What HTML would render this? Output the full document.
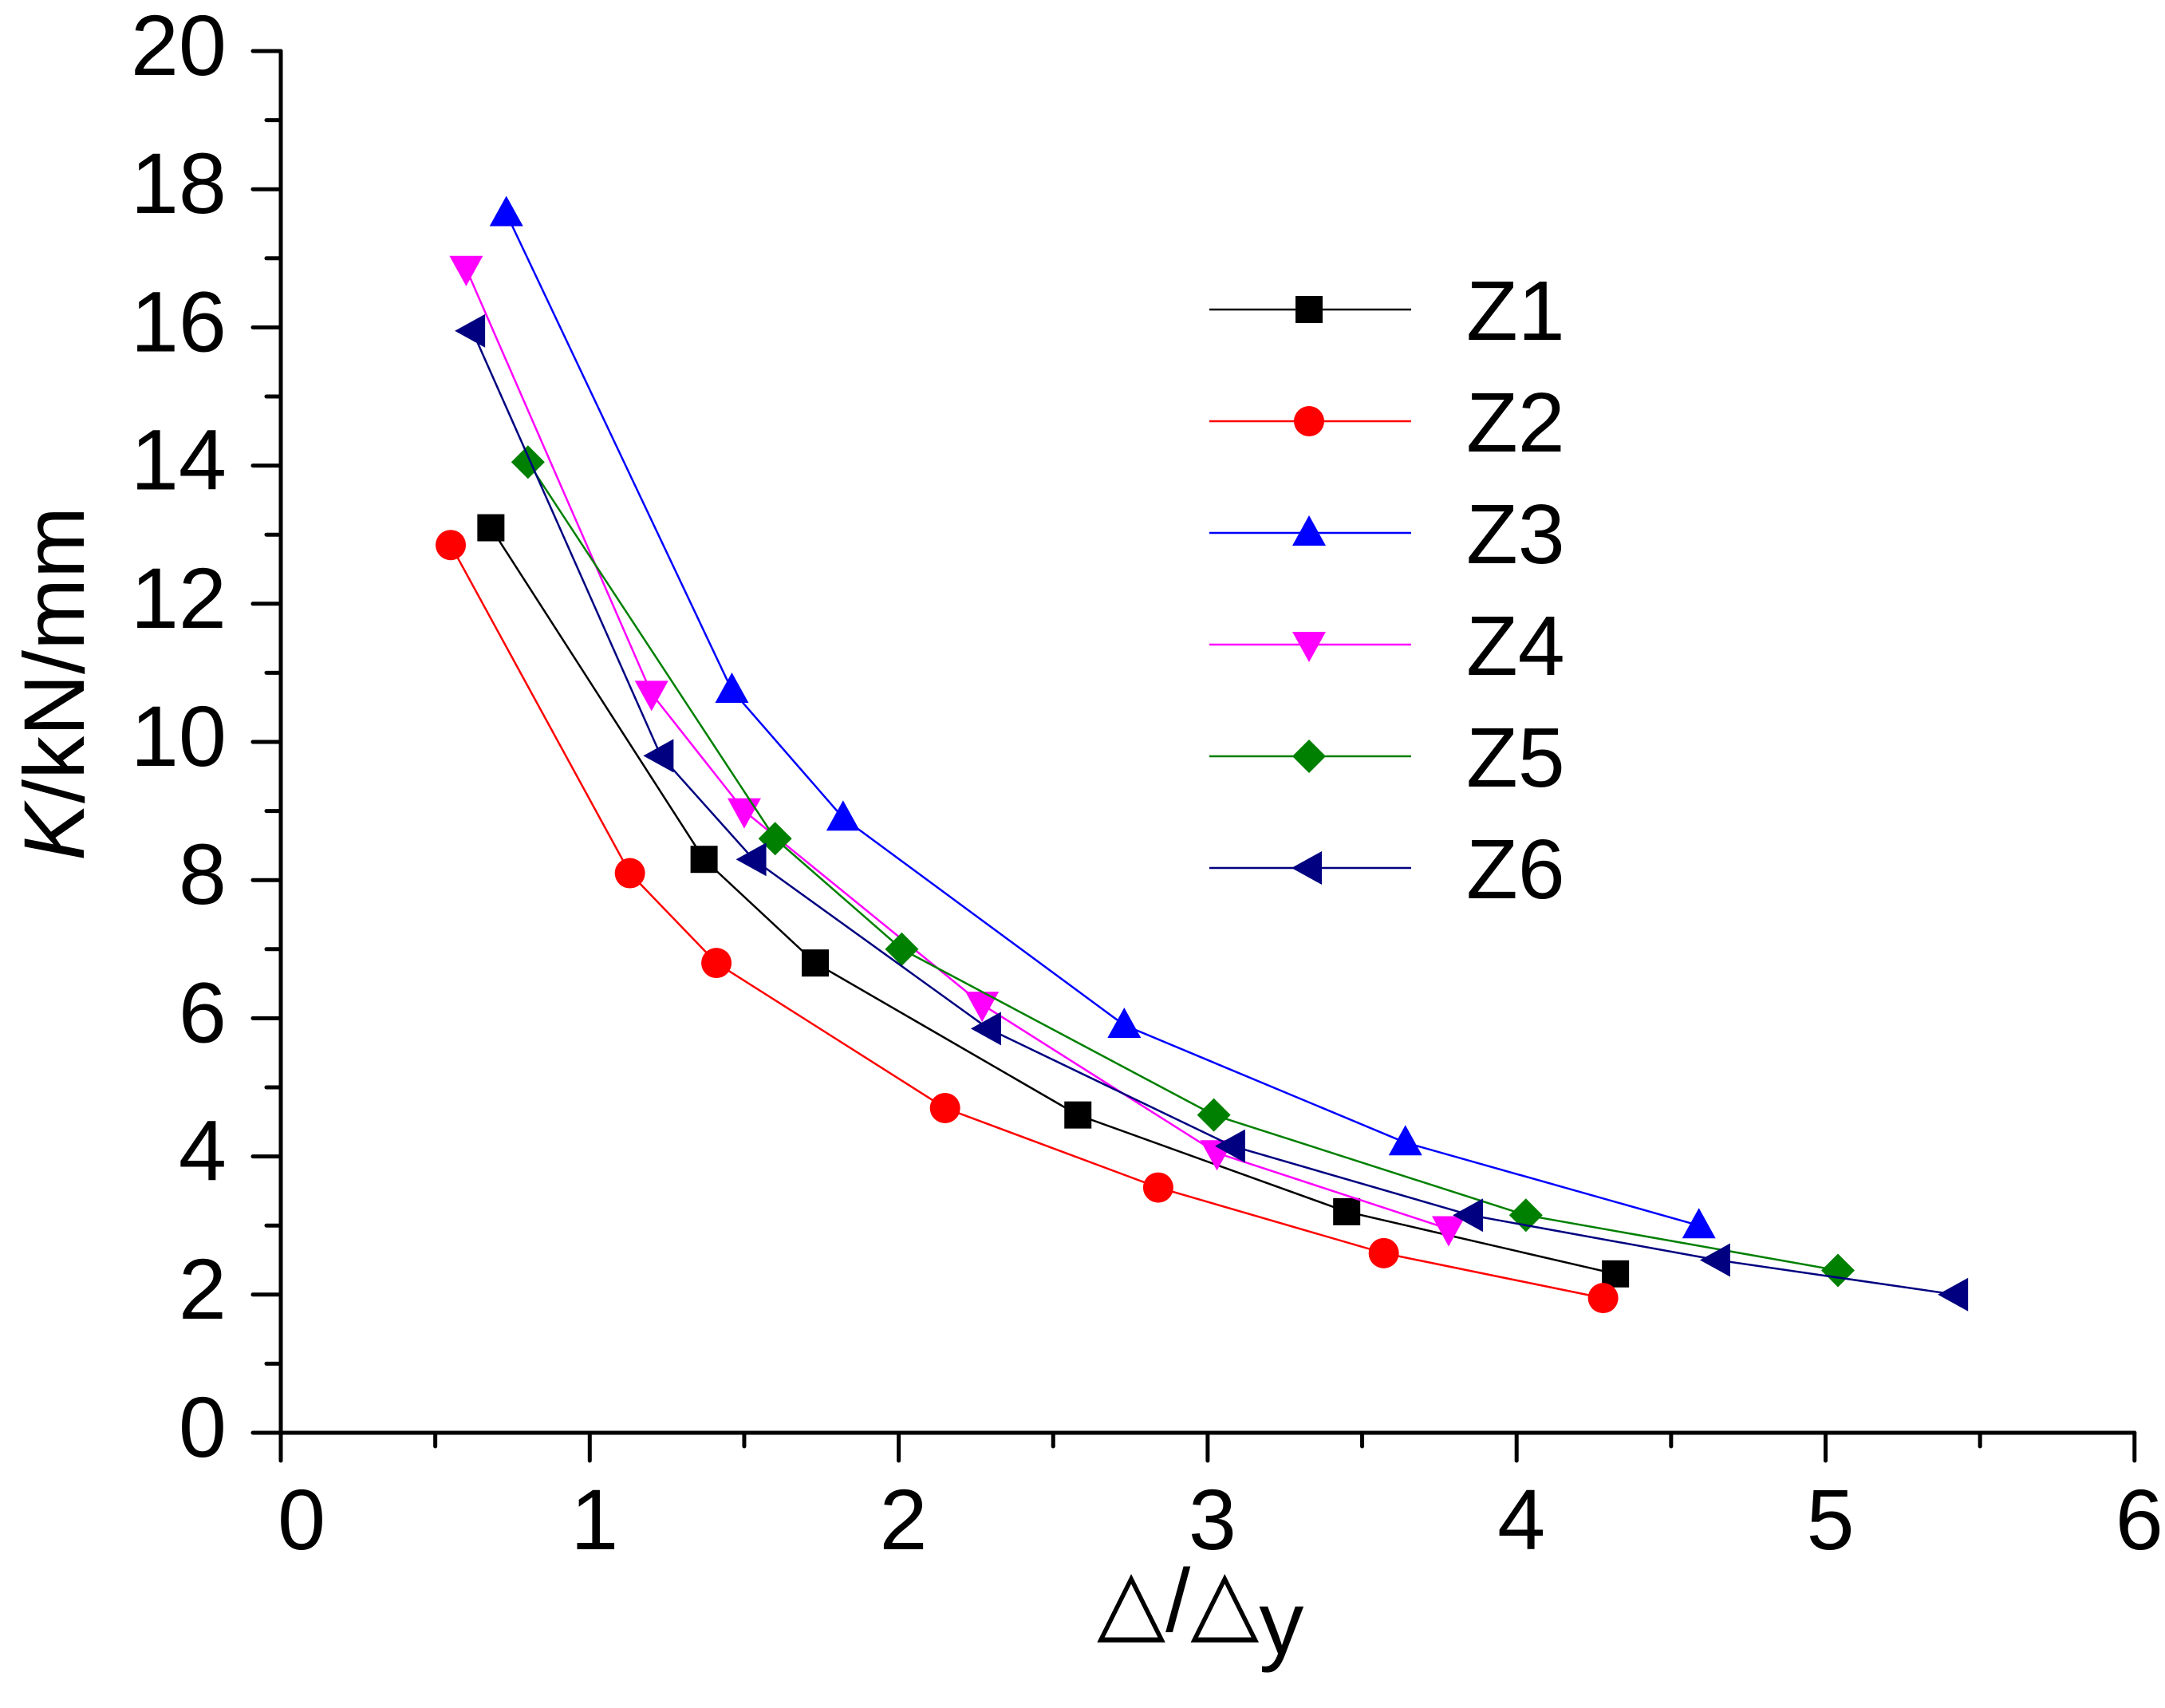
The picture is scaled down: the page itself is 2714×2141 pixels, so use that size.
<!DOCTYPE html>
<html><head><meta charset="utf-8"><style>
html,body{margin:0;padding:0;background:#fff;}
svg{display:block;font-family:"Liberation Sans",Arial,sans-serif;}
</style></head><body>
<svg id="chart" width="2714" height="2141" viewBox="0 0 2714 2141" xmlns="http://www.w3.org/2000/svg">
<g id="axes"></g>
<g id="series"></g>
<g id="legend"></g>
<text transform="translate(105,857) rotate(-90)" text-anchor="middle" font-size="108"><tspan font-style="italic">K</tspan>/kN/mm</text>
<text x="1375" y="2045" font-size="112">△/△<tspan dy="28">y</tspan></text>
</svg>
<script>
const xTicks=[0,1,2,3,4,5,6];
const yTicks=[0,2,4,6,8,10,12,14,16,18,20];
const seriesNames=["Z1","Z2","Z3","Z4","Z5","Z6"];
const z1x=[0.68,1.37,1.73,2.58,3.45,4.32];
const z1y=[13.1,8.3,6.8,4.6,3.2,2.3];
const z2x=[0.55,1.13,1.41,2.15,2.84,3.57,4.28];
const z2y=[12.85,8.1,6.8,4.7,3.55,2.6,1.95];
const z3x=[0.73,1.46,1.82,2.73,3.64,4.59];
const z3y=[17.65,10.75,8.9,5.9,4.2,3.0];
const z4x=[0.6,1.2,1.5,2.27,3.03,3.78];
const z4y=[16.85,10.7,9.0,6.2,4.05,2.95];
const z5x=[0.8,1.6,2.01,3.02,4.03,5.04];
const z5y=[14.05,8.6,7.0,4.6,3.15,2.35];
const z6x=[0.62,1.23,1.53,2.29,3.08,3.85,4.65,5.42];
const z6y=[15.95,9.8,8.3,5.85,4.15,3.15,2.5,2.0];

const NS="http://www.w3.org/2000/svg";
const X0=352,XU=387.3,Y0=1796,YU=86.6;
const sx=v=>X0+v*XU, sy=v=>Y0-v*YU;
function mk(tag,parent,attrs){const e=document.createElementNS(NS,tag);for(const k in attrs)e.setAttribute(k,attrs[k]);parent.appendChild(e);return e;}
const axes=document.getElementById('axes');
let ax=mk('path',axes,{d:`M${sx(0)},${sy(20)} V${sy(0)} H${sx(6)}`,fill:'none',stroke:'#000','stroke-width':5,'stroke-linecap':'round','stroke-linejoin':'miter'});


xTicks.forEach((t,i)=>{
 let l=mk('line',axes,{x1:sx(t),x2:sx(t),y1:sy(0),y2:sy(0)+35,stroke:'#000','stroke-width':5,'stroke-linecap':'round'});
 
 
 if(i<xTicks.length-1){let m=mk('line',axes,{x1:sx(t+0.5),x2:sx(t+0.5),y1:sy(0),y2:sy(0)+17,stroke:'#000','stroke-width':5,'stroke-linecap':'round'});
 
 }
 let tx=mk('text',axes,{x:sx(t)+(i===0?26:6),y:1942,'text-anchor':'middle','font-size':108});
 
 
 tx.textContent=t;
});
yTicks.forEach((t,i)=>{
 let l=mk('line',axes,{x1:sx(0)-35,x2:sx(0),y1:sy(t),y2:sy(t),stroke:'#000','stroke-width':5,'stroke-linecap':'round'});
 
 
 if(i<yTicks.length-1){let m=mk('line',axes,{x1:sx(0)-18,x2:sx(0),y1:sy(t+1),y2:sy(t+1),stroke:'#000','stroke-width':5,'stroke-linecap':'round'});
 
 }
 let tx=mk('text',axes,{x:284,y:sy(t)+30,'text-anchor':'end','font-size':108});
 
 
 tx.textContent=t;
});
const colors=["#000000","#ff0000","#0000ff","#ff00ff","#008000","#000080"];
const shapes=["square","circle","up","down","diamond","left"];
const allX=[z1x,z2x,z3x,z4x,z5x,z6x], allY=[z1y,z2y,z3y,z4y,z5y,z6y];
function marker(parent,shape,x,y,c){
 const r=19;let e;
 if(shape==="square")e=mk('rect',parent,{x:x-17,y:y-17,width:34,height:34,fill:c});
 else if(shape==="circle")e=mk('circle',parent,{cx:x,cy:y,r:19,fill:c});
 else{let p;
  if(shape==="up")p=[[x,y-r-3],[x-r-2,y+r-3],[x+r+2,y+r-3]];
  else if(shape==="down")p=[[x,y+r+3],[x-r-2,y-r+3],[x+r+2,y-r+3]];
  else if(shape==="diamond")p=[[x,y-r-2],[x+r+2,y],[x,y+r+2],[x-r-2,y]];
  else p=[[x-r-3,y],[x+r-3,y-r-2],[x+r-3,y+r+2]];
  e=mk('polygon',parent,{points:p.map(q=>q.join(',')).join(' '),fill:c});}
 return e;
}
const sg=document.getElementById('series');
allX.forEach((xs,si)=>{
 const g=mk('g',sg,{});
 
 
 const pl=mk('polyline',g,{points:xs.map((v,i)=>sx(v)+','+sy(allY[si][i])).join(' '),fill:'none',stroke:colors[si],'stroke-width':2.5});
 
 
 xs.forEach((v,i)=>{const m=marker(g,shapes[si],sx(v),sy(allY[si][i]),colors[si]);
  
  });
});
const lg=document.getElementById('legend');
seriesNames.forEach((n,i)=>{
 const y=388+i*140;
 const g=mk('g',lg,{});
 
 
 mk('line',g,{x1:1516,x2:1769,y1:y,y2:y,stroke:colors[i],'stroke-width':2.5});
 marker(g,shapes[i],1641,y,colors[i]);
 const t=mk('text',g,{x:1838,y:y+38,'font-size':106});
 t.textContent=n;
});
</script>
</body></html>
